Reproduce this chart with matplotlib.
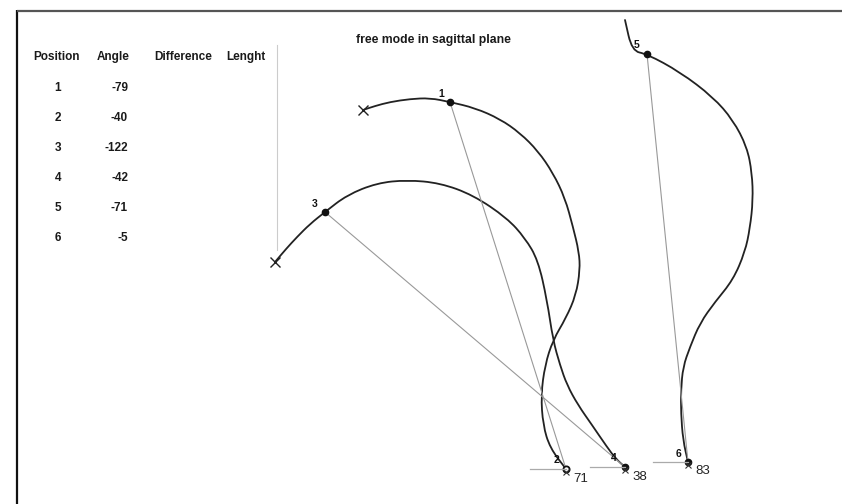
import numpy as np
import matplotlib.pyplot as plt
from matplotlib.path import Path
from matplotlib.patches import PathPatch

plt.rcParams['font.family'] = ['Liberation Sans', 'DejaVu Sans']

# table on the left
positions = ["1", "2", "3", "4", "5", "6"]
angles = [-79, -40, -122, -42, -71, -5]
headers = ["Position", "Angle", "Difference", "Lenght"]

# traced trajectories (drawing units, y down)
path_a_x = [363, 375, 390, 410, 430, 450, 475, 500, 520, 538, 553, 565, 573, 579, 580, 576, 566, 553, 545, 541, 543, 550, 566]
path_a_y = [110, 106, 102, 99, 98, 102, 108, 119, 133, 151, 173, 198, 227, 252, 270, 295, 318, 340, 365, 395, 425, 448, 469]

path_b_x = [275, 286, 297, 310, 325, 347, 377, 407, 440, 473, 507, 525, 538, 547, 553, 560, 567, 578, 592, 607, 616, 625]
path_b_y = [262, 249, 237, 224, 212, 195, 183, 180, 183, 195, 218, 238, 260, 300, 340, 365, 385, 405, 425, 447, 459, 467]

path_c_x = [625, 632, 647, 680, 713, 733, 747, 752, 753, 750, 745, 733, 715, 700, 690, 683, 681, 681, 683, 688]
path_c_y = [20, 51, 54, 72, 97, 120, 147, 173, 200, 228, 252, 280, 302, 323, 347, 367, 390, 413, 440, 462]

# numbered points 1..6
pt_x = [450, 566, 325, 625, 647, 688]
pt_y = [102, 469, 212, 467, 54, 462]
pt_lbl_x = [441, 556, 315, 614, 637, 679]
pt_lbl_y = [94, 460, 204, 458, 45, 454]

# end lengths at points 2, 4, 6
end_idx = [1, 3, 5]
lengths = [71, 38, 83]
len_dx = [7, 7, 7]
len_dy = [10, 10, 9]
tail_len = [36, 35, 35]

start_x = [363, 275]
start_y = [110, 262]


def smooth_path(xs, ys):
    # quadratic segments through the midpoints, traced points act as controls
    pts = np.column_stack([xs, ys]).astype(float)
    mids = (pts[:-1] + pts[1:]) / 2
    verts = [pts[0], mids[0]]
    codes = [Path.MOVETO, Path.LINETO]
    for i in range(1, len(pts) - 1):
        verts += [pts[i], mids[i]]
        codes += [Path.CURVE3, Path.CURVE3]
    verts.append(pts[-1])
    codes.append(Path.LINETO)
    return Path(verts, codes)


fig = plt.figure(figsize=(8.42, 5.04), dpi=100)
ax = fig.add_axes([0, 0, 1, 1])
ax.set_xlim(0, 842)
ax.set_ylim(504, 0)
ax.axis('off')

# frame (left and top only)
ax.plot([17, 17], [10, 504], color='#111111', lw=1.6, solid_capstyle='butt')
ax.plot([17, 842], [11, 11], color='#555555', lw=1.6, solid_capstyle='butt')

# thin separator next to the table
ax.plot([277, 277], [45, 250], color='#cccccc', lw=0.8)

ax.text(433, 40, "free mode in sagittal plane", ha='center', va='center',
        fontsize=8.8, fontweight='bold', color='#1a1a1a')

# table
head_x = [56, 113, 183, 246]
for hx, h in zip(head_x, headers):
    ax.text(hx, 57, h, ha='center', va='center', fontsize=8.5, fontweight='bold', color='#1a1a1a')
for i, (p, a) in enumerate(zip(positions, angles)):
    y = 88 + 30 * i
    ax.text(58, y, p, ha='center', va='center', fontsize=8.5, fontweight='bold', color='#1a1a1a')
    ax.text(128, y, str(a), ha='right', va='center', fontsize=8.5, fontweight='bold', color='#1a1a1a')

# chords between paired points
for a, b in [(0, 1), (2, 3), (4, 5)]:
    ax.plot([pt_x[a], pt_x[b]], [pt_y[a], pt_y[b]], color='#999999', lw=0.8)

# trajectories
for xs, ys in [(path_a_x, path_a_y), (path_b_x, path_b_y), (path_c_x, path_c_y)]:
    ax.add_patch(PathPatch(smooth_path(xs, ys), fill=False, edgecolor='#222222',
                           lw=1.3, joinstyle='round', capstyle='round'))

# start crosses
ax.plot(start_x, start_y, linestyle='none', marker='x', ms=7, mew=1.0, color='#222222')

# point markers
for i in range(6):
    if i == 1:
        ax.plot(pt_x[i], pt_y[i], marker='o', ms=4.5, mfc='white', mec='#111111', mew=1.3)
    else:
        ax.plot(pt_x[i], pt_y[i], marker='o', ms=4.5, color='#111111')
    ax.text(pt_lbl_x[i], pt_lbl_y[i], positions[i], ha='center', va='center',
            fontsize=7.5, fontweight='bold', color='#111111')

# end ticks, tails and lengths
for k, i in enumerate(end_idx):
    ax.plot(pt_x[i], pt_y[i] + 3, marker='x', ms=5, mew=0.8, color='#333333')
    ax.plot([pt_x[i] - tail_len[k], pt_x[i]], [pt_y[i], pt_y[i]], color='#aaaaaa', lw=0.9)
    ax.text(pt_x[i] + len_dx[k], pt_y[i] + len_dy[k], str(lengths[k]), ha='left', va='center',
            fontsize=9.5, color='#222222')

fig.savefig('out.png', dpi=100)
